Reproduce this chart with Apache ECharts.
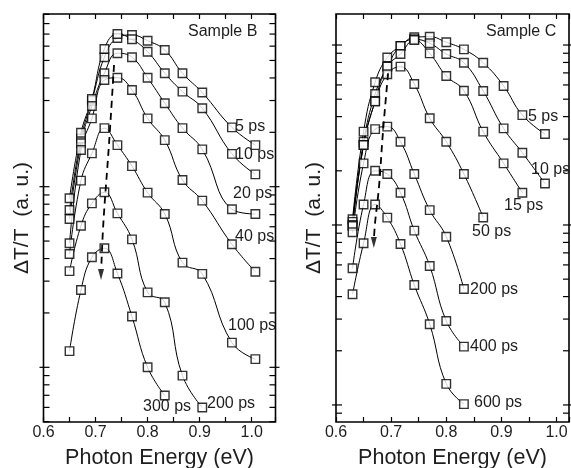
<!DOCTYPE html>
<html><head><meta charset="utf-8">
<script src="https://cdn.jsdelivr.net/npm/echarts@6/dist/echarts.min.js"></script>
<style>html,body{margin:0;padding:0;background:#fff}#c{width:571px;height:468px}</style>
</head><body><div id="c"></div>
<script>
// ---------- data: Sample B ----------
const energyB = [0.650, 0.672, 0.693, 0.717, 0.742, 0.770, 0.800, 0.833, 0.867, 0.905, 0.962, 1.007];
const b5ps   = [7.43, 18.5, 29.9, 52.1, 66.6, 69.2, 64.3, 57.1, 42.5, 33.2, 21.3, 17.0];
const b10ps  = [8.63, 19.9, 30.6, 57.9, 70.1, 65.5, 55.9, 42.5, 33.6, 27.2, 15.2, 11.7];
const b20ps  = [6.62, 17.4, 28.0, 42.5, 54.8, 52.1, 40.1, 29.0, 21.1, 16.1, 7.50, 7.06];
const b40ps  = [4.86, 15.97, 23.9, 39.0, 40.1, 34.3, 23.9, 18.1, 10.9, 8.37, 4.80, 3.38];
const b100ps = [4.24, 10.8, 15.3, 21.1, 17.0, 13.0, 9.27, 7.06, 3.80, 3.29, 1.37, 1.11];
const b200ps = [3.41, 6.08, 8.09, 9.31, 7.12, 5.11, 2.60, 2.29, 0.899, 0.599];
const b300ps = [1.23, 2.68, 4.07, 4.56, 3.31, 1.91, 1.00, 0.698];
const dashBx = [0.7355, 0.726, 0.715, 0.711];
const dashBy = [47.2, 17.5, 6.3, 3.55];
const arrowB = [0.7105, 3.27];

// ---------- data: Sample C ----------
const energyC = [0.630, 0.650, 0.671, 0.693, 0.717, 0.742, 0.770, 0.800, 0.832, 0.867, 0.904, 0.938, 0.979];
const c5ps   = [10.76, 33.0, 62.1, 85.2, 98.7, 110.4, 111.2, 103.5, 94.6, 79.7, 59.2, 40.8, 32.0];
const c10ps  = [10.4, 29.0, 53.4, 75.8, 98.7, 107.6, 102.2, 89.1, 79.7, 55.5, 34.4, 25.2, 17.0];
const c15ps  = [10.0, 27.8, 48.9, 75.8, 89.1, 106.6, 89.9, 67.3, 55.7, 33.0, 22.0, 15.1];
const c50ps  = [9.87, 27.8, 48.5, 68.8, 75.8, 60.7, 39.2, 29.0, 19.2, 11.0];
const c200ps = [9.11, 22.0, 34.1, 35.2, 29.0, 19.2, 12.1, 8.61, 4.41];
const c400ps = [5.75, 13.0, 20.0, 19.2, 15.1, 9.30, 5.92, 2.93, 2.11];
const c600ps = [4.12, 7.91, 13.0, 10.98, 7.84, 4.64, 2.81, 1.31, 1.01];
const dashCx = [0.6945, 0.685, 0.678, 0.671, 0.669];
const dashCy = [69.6, 32.3, 16.3, 10.4, 8.6];
const arrowC = [0.6686, 7.99];

// axis ranges
const xRangeB = [0.6, 1.0457], yRangeB = [0.498, 90.4];
const xRangeC = [0.6, 1.0226], yRangeC = [0.804, 148.7];

const FONT = '"Liberation Sans", Arial, sans-serif';
const TXT = '#1e1e1e';

function pairs(xs, ys) { return ys.map((v, i) => [xs[i], v]); }
function lineS(xs, ys, xi, yi) {
  return {type: 'line', xAxisIndex: xi, yAxisIndex: yi, data: pairs(xs, ys), smooth: 0.45,
    showSymbol: false, symbol: 'none', lineStyle: {color: '#000', width: 1}, z: 2, silent: true};
}
function markS(xs, ys, xi, yi) {
  return {type: 'scatter', xAxisIndex: xi, yAxisIndex: yi, data: pairs(xs, ys), symbol: 'rect',
    symbolSize: 8.5, itemStyle: {color: '#fff', borderColor: '#000', borderWidth: 1.4}, z: 3, silent: true};
}
function logTicks(lo, hi) {
  const out = [];
  for (let k = -2; k <= 3; k++) for (let m = 1; m <= 9; m++) {
    const v = m * Math.pow(10, k);
    if (v >= lo * 0.999 && v <= hi) out.push([v, m === 1 ? 1 : 0]);
  }
  return out;
}
function tickSeries(xi, yi, xmin, range) {
  return {type: 'custom', xAxisIndex: xi, yAxisIndex: yi, silent: true, clip: false, z: 5,
    data: logTicks(range[0], range[1]).map(t => [xmin, t[0], t[1]]),
    renderItem(params, api) {
      const p = api.coord([api.value(0), api.value(1)]);
      const cs = params.coordSys; const y = p[1];
      const major = api.value(2) === 1;
      const lin = 6, lout = major ? 4 : 0;
      const st = {stroke: '#000', lineWidth: 1.2};
      return {type: 'group', children: [
        {type: 'line', shape: {x1: cs.x - lout, y1: y, x2: cs.x + lin, y2: y}, style: st},
        {type: 'line', shape: {x1: cs.x + cs.width - lin, y1: y, x2: cs.x + cs.width + lout, y2: y}, style: st}
      ]};
    }};
}
function xLabel(v) { const k = Math.round(v * 100); return (k % 10 === 0) ? (k / 100).toFixed(1) : ''; }
function xAxes(g, range) {
  const base = {gridIndex: g, type: 'value', min: range[0], max: range[1], interval: 0.05,
    axisLine: {show: false}, splitLine: {show: false},
    axisTick: {inside: true, length: 5, lineStyle: {color: '#000', width: 1.2}}};
  return [
    Object.assign({}, base, {position: 'bottom',
      axisLabel: {formatter: xLabel, fontSize: 16, color: TXT, margin: 3, fontFamily: FONT},
      name: 'Photon Energy (eV)', nameLocation: 'middle', nameGap: 25,
      nameTextStyle: {fontSize: 21.5, color: TXT, fontFamily: FONT}}),
    Object.assign({}, base, {position: 'top', axisLabel: {show: false}})
  ];
}
function yAxis(g, range) {
  return {gridIndex: g, type: 'log', logBase: 10, min: range[0], max: range[1],
    axisLine: {show: false}, axisTick: {show: false}, axisLabel: {show: false}, splitLine: {show: false},
    name: 'ΔT/T  (a. u.)', nameLocation: 'middle', nameGap: 11, nameRotate: 90,
    nameTextStyle: {fontSize: 21, color: TXT, fontFamily: FONT}};
}
function dashS(xs, ys, xi, yi) {
  return {type: 'line', xAxisIndex: xi, yAxisIndex: yi, data: pairs(xs, ys), smooth: 0.4, symbol: 'none',
    lineStyle: {color: '#000', width: 1.8, type: [7, 5]}, z: 4, silent: true};
}
function arrowS(pt, xi, yi) {
  return {type: 'scatter', xAxisIndex: xi, yAxisIndex: yi, data: [pt], symbol: 'triangle',
    symbolRotate: 180, symbolSize: [6, 11], itemStyle: {color: '#000'}, z: 4, silent: true};
}
function label(text, x, y) {
  return {type: 'text', left: x, top: y - 9, z: 10,
    style: {text, fontSize: 16, fill: TXT, fontFamily: FONT}};
}

const seriesB = [b5ps, b10ps, b20ps, b40ps, b100ps, b200ps, b300ps];
const seriesC = [c5ps, c10ps, c15ps, c50ps, c200ps, c400ps, c600ps];

const series = [];
seriesB.forEach(s => series.push(lineS(energyB, s, 0, 0)));
seriesC.forEach(s => series.push(lineS(energyC, s, 2, 1)));
series.push(dashS(dashBx, dashBy, 0, 0), arrowS(arrowB, 0, 0));
series.push(dashS(dashCx, dashCy, 2, 1), arrowS(arrowC, 2, 1));
seriesB.forEach(s => series.push(markS(energyB, s, 0, 0)));
seriesC.forEach(s => series.push(markS(energyC, s, 2, 1)));
series.push(tickSeries(0, 0, xRangeB[0], yRangeB));
series.push(tickSeries(2, 1, xRangeC[0], yRangeC));

const chart = echarts.init(document.getElementById('c'), null, {renderer: 'canvas'});
chart.setOption({
  animation: false,
  backgroundColor: '#fff',
  grid: [
    {left: 43.5, top: 14, width: 232, height: 408, outerBoundsMode: 'none', containLabel: false,
     show: true, borderColor: '#000', borderWidth: 1.6, backgroundColor: 'transparent'},
    {left: 336, top: 14, width: 233, height: 408, outerBoundsMode: 'none', containLabel: false,
     show: true, borderColor: '#000', borderWidth: 1.6, backgroundColor: 'transparent'}
  ],
  xAxis: xAxes(0, xRangeB).concat(xAxes(1, xRangeC)),
  yAxis: [yAxis(0, yRangeB), yAxis(1, yRangeC)],
  series,
  graphic: [
    label('Sample B', 188, 33),
    label('5 ps', 235, 128), label('10 ps', 235, 156), label('20 ps', 233, 195),
    label('40 ps', 235, 238), label('100 ps', 228, 327), label('200 ps', 207, 405),
    label('300 ps', 143, 408),
    label('Sample C', 486, 33),
    label('5 ps', 528, 118), label('10 ps', 531, 171), label('15 ps', 504, 207),
    label('50 ps', 472, 233), label('200 ps', 470, 291), label('400 ps', 470, 348),
    label('600 ps', 474, 404)
  ]
});
</script></body></html>
